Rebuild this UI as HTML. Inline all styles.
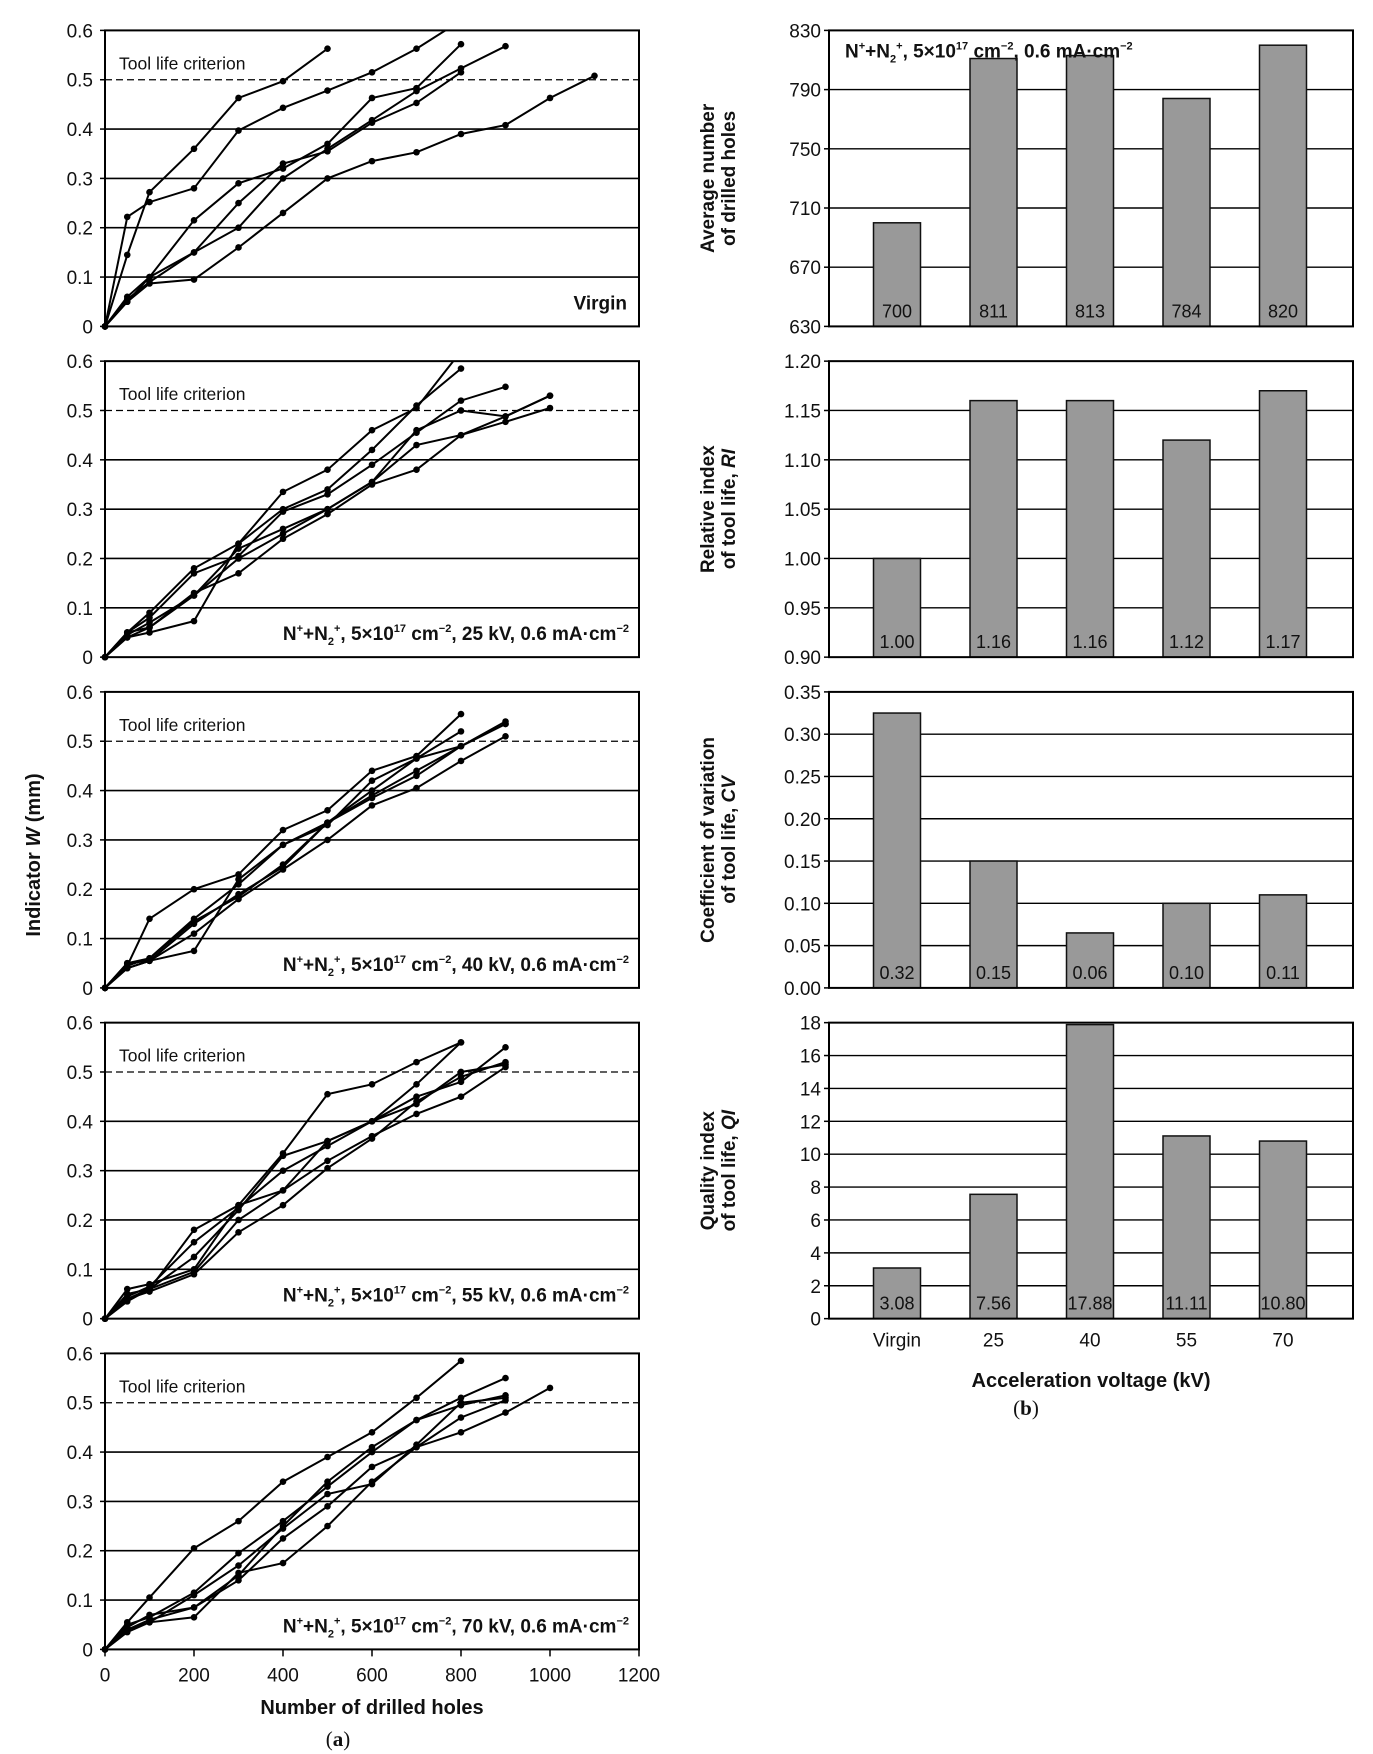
<!DOCTYPE html>
<html><head><meta charset="utf-8">
<style>
html,body{margin:0;padding:0;background:#fff;}
svg{display:block;}
text{font-family:"Liberation Sans",Arial,sans-serif;fill:#111;}
</style></head>
<body>
<svg id="fig" width="1373" height="1754" viewBox="0 0 1373 1754" xmlns="http://www.w3.org/2000/svg"></svg>
<script>
// ---- Left panels data (wear indicator W vs. number of drilled holes) ----
const holes = [0,50,100,200,300,400,500,600,700,800,900,1000,1100];
const panelLabels = ["Virgin","25 kV","40 kV","55 kV","70 kV"];
const virginSeries = [
 [0,0.222,0.252,0.28,0.397,0.443,0.478,0.515,0.563,0.62],
 [0,0.145,0.272,0.36,0.463,0.497,0.563],
 [0,0.06,0.10,0.215,0.29,0.32,0.37,0.463,0.483,0.572],
 [0,0.055,0.09,0.15,0.25,0.33,0.355,0.413,0.453,0.515],
 [0,0.05,0.10,0.15,0.20,0.30,0.36,0.418,0.477,0.523,0.568],
 [0,0.05,0.087,0.095,0.16,0.23,0.30,0.335,0.353,0.39,0.408,0.463,0.508]
];
const kv25Series = [
 [0,0.05,0.09,0.18,0.23,0.335,0.38,0.46,0.505,0.62],
 [0,0.04,0.05,0.073,0.23,0.30,0.34,0.42,0.51,0.585],
 [0,0.05,0.08,0.17,0.205,0.295,0.33,0.39,0.455,0.52,0.548],
 [0,0.045,0.07,0.125,0.20,0.25,0.30,0.355,0.46,0.50,0.488,0.53],
 [0,0.04,0.06,0.13,0.17,0.24,0.29,0.35,0.38,0.45,0.477,0.505],
 [0,0.05,0.06,0.125,0.22,0.26,0.30,0.355,0.43,0.45,0.488,0.53]
];
const kv40Series = [
 [0,0.045,0.14,0.20,0.23,0.32,0.36,0.44,0.47,0.555],
 [0,0.05,0.055,0.075,0.22,0.29,0.33,0.42,0.465,0.52],
 [0,0.045,0.06,0.14,0.21,0.29,0.335,0.40,0.465,0.49,0.54],
 [0,0.04,0.055,0.13,0.19,0.245,0.335,0.385,0.43,0.49,0.535],
 [0,0.04,0.055,0.11,0.18,0.24,0.30,0.37,0.405,0.46,0.51],
 [0,0.05,0.06,0.135,0.185,0.25,0.335,0.39,0.44,0.49,0.535]
];
const kv55Series = [
 [0,0.06,0.07,0.10,0.23,0.335,0.455,0.475,0.52,0.56],
 [0,0.05,0.06,0.125,0.22,0.33,0.36,0.40,0.475,0.56],
 [0,0.04,0.06,0.18,0.23,0.26,0.36,0.40,0.45,0.48,0.55],
 [0,0.045,0.065,0.155,0.225,0.30,0.35,0.40,0.435,0.50,0.515],
 [0,0.035,0.06,0.095,0.20,0.26,0.32,0.37,0.415,0.45,0.51],
 [0,0.04,0.055,0.09,0.175,0.23,0.305,0.365,0.44,0.49,0.52]
];
const kv70Series = [
 [0,0.055,0.105,0.205,0.26,0.34,0.39,0.44,0.51,0.585],
 [0,0.045,0.07,0.085,0.15,0.25,0.34,0.41,0.465,0.51,0.55],
 [0,0.05,0.065,0.115,0.195,0.26,0.33,0.40,0.465,0.495,0.515],
 [0,0.04,0.06,0.085,0.14,0.225,0.29,0.37,0.41,0.47,0.505],
 [0,0.035,0.055,0.065,0.155,0.175,0.25,0.34,0.41,0.44,0.48,0.53],
 [0,0.04,0.055,0.11,0.17,0.245,0.315,0.335,0.415,0.50,0.51]
];
const yTicksW = [0,0.1,0.2,0.3,0.4,0.5,0.6];
const xTicksHoles = [0,200,400,600,800,1000,1200];
const criterion = 0.5;

// ---- Right panels data ----
const categories = ["Virgin","25","40","55","70"];
const avgHoles = [700,811,813,784,820];
const avgHolesLabels = ["700","811","813","784","820"];
const relIndex = [1.00,1.16,1.16,1.12,1.17];
const relIndexLabels = ["1.00","1.16","1.16","1.12","1.17"];
const coefVar = [0.325,0.15,0.065,0.10,0.11];
const coefVarLabels = ["0.32","0.15","0.06","0.10","0.11"];
const qualIndex = [3.08,7.56,17.88,11.11,10.80];
const qualIndexLabels = ["3.08","7.56","17.88","11.11","10.80"];
const ticksAvg = [630,670,710,750,790,830];
const ticksRI = [0.90,0.95,1.00,1.05,1.10,1.15,1.20];
const ticksCV = [0,0.05,0.10,0.15,0.20,0.25,0.30,0.35];
const ticksQI = [0,2,4,6,8,10,12,14,16,18];

const NS="http://www.w3.org/2000/svg";
const svg=document.getElementById('fig');
function mk(tag,attrs,parent,txt){const e=document.createElementNS(NS,tag);for(const k in attrs)e.setAttribute(k,attrs[k]);if(txt!==undefined)e.textContent=txt;(parent||svg).appendChild(e);return e;}

const LX0=105, LX1=639, ROW0=30.4, ROWH=330.75, PH=296;
const RX0=829, RX1=1353;
function xL(v){return LX0+(v-0)/1200*(LX1-LX0);}

const allSeries=[virginSeries,kv25Series,kv40Series,kv55Series,kv70Series];
allSeries.forEach((series,p)=>{
  const top=ROW0+p*ROWH, bot=top+PH;
  const yW=v=>bot-(v/0.6)*PH;
  const g=mk('g',{});
  
  
  const clipId='clip'+p;
  const cp=mk('clipPath',{id:clipId},g); mk('rect',{x:LX0-5,y:top,width:LX1-LX0+10,height:PH+6},cp);
  yTicksW.forEach(t=>{
    const y=yW(t);
    if(t>0 && t<0.6 && Math.abs(t-criterion)>1e-9){const l=mk('line',{x1:LX0,x2:LX1,y1:y,y2:y,stroke:'#000','stroke-width':1.6},g);}
    mk('line',{x1:LX0-5,x2:LX0,y1:y,y2:y,stroke:'#000','stroke-width':1.5},g);
    const tx=mk('text',{x:LX0-12,y:y+7,'text-anchor':'end','font-size':19},g,String(t));
    
  });
  const cl=mk('line',{x1:LX0,x2:LX1,y1:yW(criterion),y2:yW(criterion),stroke:'#000','stroke-width':1.3,'stroke-dasharray':'7,4'},g);
  
  const ct=mk('text',{x:LX0+14,y:top+39,'font-size':17.5},g,'Tool life criterion');
  
  const fr=mk('rect',{x:LX0,y:top,width:LX1-LX0,height:PH,fill:'none',stroke:'#000','stroke-width':2},g);
  
  const sg=mk('g',{'clip-path':'url(#'+clipId+')'},g);
  series.forEach((s,i)=>{
    const pts=s.map((v,j)=>xL(holes[j]).toFixed(1)+','+yW(v).toFixed(1)).join(' ');
    const pl=mk('polyline',{points:pts,fill:'none',stroke:'#000','stroke-width':2},sg);
    
    s.forEach((v,j)=>{const c=mk('circle',{cx:xL(holes[j]),cy:yW(v),r:3.3,fill:'#000'},sg);
      });
  });
  let lab;
  if(p===0){lab=mk('text',{x:LX1-12,y:bot-17,'text-anchor':'end','font-size':19,'font-weight':'bold'},g,'Virgin');}
  else{
    lab=mk('text',{x:LX1-10,y:bot-17,'text-anchor':'end','font-size':19,'font-weight':'bold'},g);
    lab.innerHTML='N<tspan dy="-8" font-size="11">+</tspan><tspan dy="8">+N</tspan><tspan dy="5" font-size="11">2</tspan><tspan dy="-13" font-size="11">+</tspan><tspan dy="8">, 5\u00d710</tspan><tspan dy="-8" font-size="11">17</tspan><tspan dy="8"> cm</tspan><tspan dy="-8" font-size="11">\u22122</tspan><tspan dy="8">, '+panelLabels[p]+', 0.6 mA\u00b7cm</tspan><tspan dy="-8" font-size="11">\u22122</tspan>';
  }
  
  if(p===4){
    xTicksHoles.forEach(t=>{
      mk('line',{x1:xL(t),x2:xL(t),y1:bot,y2:bot+7,stroke:'#000','stroke-width':1.5},g);
      const tx=mk('text',{x:xL(t),y:bot+32,'text-anchor':'middle','font-size':19},g,String(t));
      
    });
  }
});
let t=mk('text',{x:372,y:1714,'text-anchor':'middle','font-size':20,'font-weight':'bold'},svg,'Number of drilled holes');

t=mk('text',{x:338,y:1746,'text-anchor':'middle','font-size':21,style:'font-family:"Liberation Serif",serif'},svg,'');
t.innerHTML='(<tspan font-weight="bold">a</tspan>)';

t=mk('text',{x:0,y:0,'text-anchor':'middle','font-size':20,'font-weight':'bold',transform:'translate(40,855) rotate(-90)'},svg,'');
t.innerHTML='Indicator <tspan font-style="italic">W</tspan> (mm)';


// ---- Right bar charts ----
const barPanels=[
 {vals:avgHoles,labels:avgHolesLabels,ticks:ticksAvg,dec:0,t1:'Average number',t2:'of drilled holes',it:''},
 {vals:relIndex,labels:relIndexLabels,ticks:ticksRI,dec:2,t1:'Relative index',t2:'of tool life, ',it:'RI'},
 {vals:coefVar,labels:coefVarLabels,ticks:ticksCV,dec:2,t1:'Coefficient of variation',t2:'of tool life, ',it:'CV'},
 {vals:qualIndex,labels:qualIndexLabels,ticks:ticksQI,dec:0,t1:'Quality index',t2:'of tool life, ',it:'QI'}
];
const barStep=96.5, barW=47, barC0=897;
barPanels.forEach((bp,p)=>{
  const top=ROW0+p*ROWH, bot=top+PH;
  const mn=bp.ticks[0], mx=bp.ticks[bp.ticks.length-1];
  const yB=v=>bot-(v-mn)/(mx-mn)*PH;
  const g=mk('g',{});
  
  
  bp.ticks.forEach(tk=>{
    const y=yB(tk);
    if(tk>mn && tk<mx){const l=mk('line',{x1:RX0,x2:RX1,y1:y,y2:y,stroke:'#000','stroke-width':1.4},g);}
    mk('line',{x1:RX0-5,x2:RX0,y1:y,y2:y,stroke:'#000','stroke-width':1.5},g);
    const tx=mk('text',{x:RX0-8,y:y+7,'text-anchor':'end','font-size':19},g,tk.toFixed(bp.dec));
    
  });
  bp.vals.forEach((v,i)=>{
    const cx=barC0+i*barStep;
    const vv=Math.min(v,mx);
    const r=mk('rect',{x:cx-barW/2,y:yB(vv),width:barW,height:bot-yB(vv),fill:'#999',stroke:'#111','stroke-width':1.5},g);
    
    const lt=mk('text',{x:cx,y:bot-9,'text-anchor':'middle','font-size':18,fill:'#222'},g,bp.labels[i]);
    
  });
  const fr=mk('rect',{x:RX0,y:top,width:RX1-RX0,height:PH,fill:'none',stroke:'#000','stroke-width':2},g);
  
  const yt=mk('text',{x:0,y:0,'text-anchor':'middle','font-size':19,'font-weight':'bold',transform:'translate(714,'+(top+PH/2)+') rotate(-90)'},g,'');
  yt.innerHTML='<tspan x="0" dy="0">'+bp.t1+'</tspan><tspan x="0" dy="21">'+bp.t2+'<tspan font-style="italic">'+bp.it+'</tspan></tspan>';
  
  if(p===0){
    const a=mk('text',{x:RX0+16,y:top+27,'font-size':19,'font-weight':'bold'},g);
    a.innerHTML='N<tspan dy="-8" font-size="11">+</tspan><tspan dy="8">+N</tspan><tspan dy="5" font-size="11">2</tspan><tspan dy="-13" font-size="11">+</tspan><tspan dy="8">, 5\u00d710</tspan><tspan dy="-8" font-size="11">17</tspan><tspan dy="8"> cm</tspan><tspan dy="-8" font-size="11">\u22122</tspan><tspan dy="8">, 0.6 mA\u00b7cm</tspan><tspan dy="-8" font-size="11">\u22122</tspan>';
    
  }
  if(p===3){
    categories.forEach((c,i)=>{
      const tx=mk('text',{x:barC0+i*barStep,y:bot+28,'text-anchor':'middle','font-size':19},g,c);
      
    });
  }
});
t=mk('text',{x:1091,y:1387,'text-anchor':'middle','font-size':20,'font-weight':'bold'},svg,'Acceleration voltage (kV)');

t=mk('text',{x:1026,y:1415,'text-anchor':'middle','font-size':21,style:'font-family:"Liberation Serif",serif'},svg,'');
t.innerHTML='(<tspan font-weight="bold">b</tspan>)';

</script>
</body></html>
